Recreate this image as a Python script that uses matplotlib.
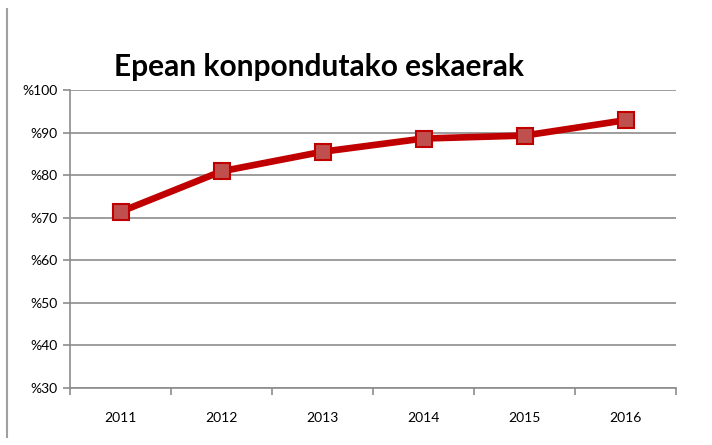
import matplotlib.pyplot as plt
import numpy as np

years = ["2011", "2012", "2013", "2014", "2015", "2016"]
values = [71.4, 80.9, 85.5, 88.6, 89.3, 92.9]
y_ticks = [30, 40, 50, 60, 70, 80, 90, 100]

plt.rcParams['font.family'] = ['Lato', 'DejaVu Sans']

fig = plt.figure(figsize=(7.12, 4.45), dpi=100)
ax = fig.add_axes([70/712, 57/445, 606/712, 298/445])

x = np.arange(len(years))
ax.plot(x, values, color="#C00000", lw=4.8, marker="s", ms=11.5,
        markerfacecolor="#C0504D", markeredgecolor="#C00000", mew=1.5, zorder=3)

ax.set_xlim(-0.5, len(years) - 0.5)
ax.set_ylim(30, 100)
ax.set_yticks(y_ticks)
ax.set_yticklabels(["%" + str(v) for v in y_ticks], fontsize=10)
ax.yaxis.grid(True, color="#8c8c8c", lw=1.2)
ax.set_axisbelow(True)

# year labels at centres, tick marks between categories
ax.set_xticks(np.arange(-0.5, len(years)), labels=[""] * (len(years) + 1))
ax.set_xticks(x, labels=years, minor=True)
ax.tick_params(axis="x", which="minor", length=0, pad=17, labelsize=10)
ax.tick_params(axis="x", which="major", length=5, color="#8c8c8c", width=1.2)
ax.tick_params(axis="y", length=5, color="#8c8c8c", width=1.2, pad=4)

for side in ["top", "right"]:
    ax.spines[side].set_visible(False)
for side in ["left", "bottom"]:
    ax.spines[side].set_color("#8c8c8c")
    ax.spines[side].set_linewidth(1.2)

fig.text(319/712, 1 - 67/445, "Epean konpondutako eskaerak", ha="center", va="center",
         fontsize=21.5, fontweight="bold")

# thin frame line on the left edge
fig.add_artist(plt.Line2D([7/712, 7/712], [1 - 437/445, 1 - 9/445], color="#a0a0a0", lw=1.5))

fig.savefig("out.png", dpi=100)
